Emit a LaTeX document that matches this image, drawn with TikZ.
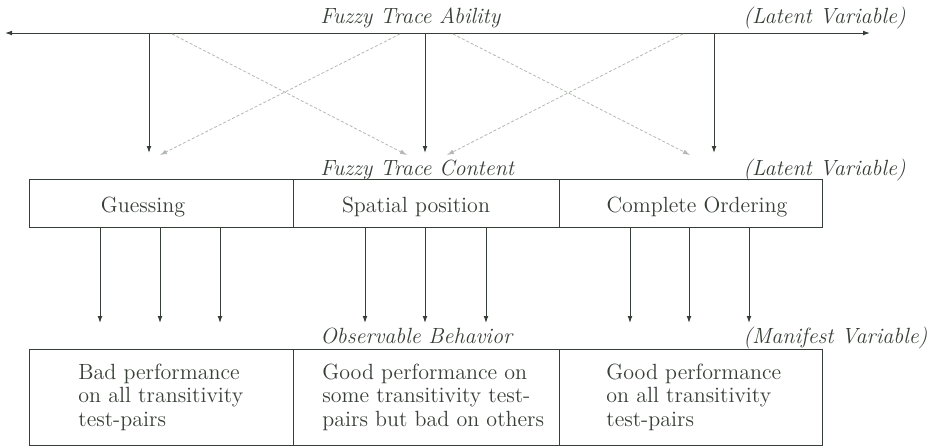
\documentclass[tikz,border=0pt]{standalone}
\usetikzlibrary{arrows.meta}
\definecolor{ink}{RGB}{55,62,55}
\definecolor{lightink}{RGB}{178,184,178}
\begin{document}
\begin{tikzpicture}[x=0.5pt,y=-0.5pt,
  every node/.style={font=\fontsize{11}{11.7}\selectfont, text=ink, inner sep=0pt},
  lbl/.style={anchor=base west, font=\fontsize{11}{11.7}\selectfont\itshape},
  boxtext/.style={anchor=base},
  topbox/.style={draw=ink, line width=0.5pt, minimum height=24pt},
  botbox/.style={draw=ink, line width=0.5pt, minimum height=48pt},
  para/.style={align=left},
  arr/.style={draw=ink, line width=0.5pt, -{Latex[length=3.5pt,width=2.4pt]}},
  darr/.style={draw=lightink, line width=0.4pt, dash pattern=on 1.5pt off 1pt, -{Latex[length=3.5pt,width=2.4pt]}}]
\useasboundingbox (0,0) rectangle (938,447);

% labels
\node[lbl] (fta) at (320,23) {Fuzzy Trace Ability};
\node[lbl] (lv1) at (743,23) {(Latent Variable)};
\node[lbl] (ftc) at (320,175) {Fuzzy Trace Content};
\node[lbl] (lv2) at (743,175) {(Latent Variable)};
\node[lbl] (ob) at (320,343) {Observable Behavior};
\node[lbl] (mv) at (743,343) {(Manifest Variable)};

% top boxes
\node[topbox, minimum width=132pt] (g) at (161,203) {};
\node[topbox, minimum width=133pt] (s) at (426,203) {};
\node[topbox, minimum width=131.5pt] (c) at (690.5,203) {};
\node[boxtext] (gt) at (143,212) {Guessing};
\node[boxtext] (st) at (416,212) {Spatial position};
\node[boxtext] (ct) at (697,212) {Complete Ordering};

% bottom boxes
\node[botbox, minimum width=132pt] (b1) at (161,397) {};
\node[botbox, minimum width=133pt] (b2) at (426,397) {};
\node[botbox, minimum width=131.5pt] (b3) at (690.5,397) {};
\node[para, anchor=west] (b1t) at (78,397) {Bad performance\\on all transitivity\\test-pairs};
\node[para, anchor=west] (b2t) at (322,397) {Good performance on\\some transitivity test-\\pairs but bad on others};
\node[para, anchor=west] (b3t) at (606,397) {Good performance\\on all transitivity\\test-pairs};

% latent axis
\coordinate (L) at (5,33);
\coordinate (R) at (870,33);
\draw[draw=ink, line width=0.5pt, {Latex[length=3.5pt,width=2.4pt]}-{Latex[length=3.5pt,width=2.4pt]}] (L) -- (R);

% solid arrows from axis
\coordinate (t1) at (149,33); \coordinate (e1) at (149,153);
\coordinate (t2) at (425,33); \coordinate (e2) at (425,153);
\coordinate (t3) at (714,33); \coordinate (e3) at (714,153);
\draw[arr] (t1) -- (e1);
\draw[arr] (t2) -- (e2);
\draw[arr] (t3) -- (e3);

% dashed crossing arrows
\coordinate (d1s) at (172,34); \coordinate (d1e) at (407,155);
\coordinate (d2s) at (400,34); \coordinate (d2e) at (160,155);
\coordinate (d3s) at (453,34); \coordinate (d3e) at (690,155);
\coordinate (d4s) at (683,34); \coordinate (d4e) at (447,155);
\draw[darr] (d1s) -- (d1e);
\draw[darr] (d2s) -- (d2e);
\draw[darr] (d3s) -- (d3e);
\draw[darr] (d4s) -- (d4e);

% arrows from content boxes to behaviour
\foreach \n/\x in {a1/100,a2/160,a3/220}{
  \coordinate (\n) at (\x,323);
  \draw[arr] (g.south -| \n) -- (\n);
}
\foreach \n/\x in {a4/365,a5/425,a6/486}{
  \coordinate (\n) at (\x,323);
  \draw[arr] (s.south -| \n) -- (\n);
}
\foreach \n/\x in {a7/630,a8/689,a9/749}{
  \coordinate (\n) at (\x,323);
  \draw[arr] (c.south -| \n) -- (\n);
}
\end{tikzpicture}
\end{document}
